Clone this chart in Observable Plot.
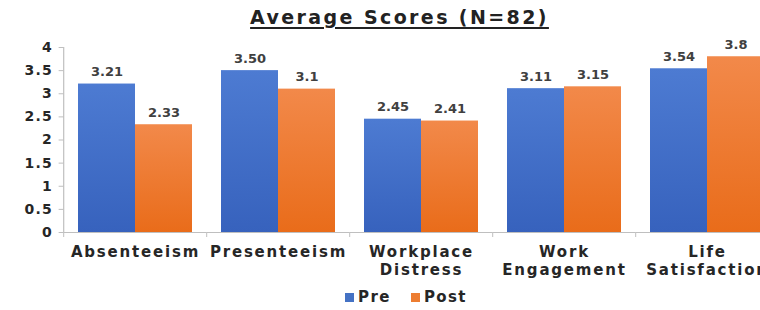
<!DOCTYPE html>
<html>
<head>
<meta charset="utf-8">
<script src="https://cdn.jsdelivr.net/npm/d3@7"></script>
<script src="https://cdn.jsdelivr.net/npm/@observablehq/plot@0.6"></script>
<style>
  html, body { margin: 0; padding: 0; background: #fff; overflow: hidden; }
  body { width: 760px; height: 310px; font-family: "DejaVu Sans", sans-serif; }
  #title { height: 34px; line-height: 34px; width: 721px; padding-left: 39px; text-align: center;
           font-weight: bold; font-size: 19px; letter-spacing: 2.4px; color: #222; text-decoration: underline;
           text-decoration-thickness: 2px; text-underline-offset: 3px; }
  #chart { width: 760px; height: 250px; overflow: hidden; }
  #legend { height: 26px; display: flex; justify-content: center; align-items: center; padding-left: 52px;
            font-weight: bold; font-size: 15px; letter-spacing: 1.4px; color: #262626; }
  .item { display: flex; align-items: center; margin: 0 10px; }
  .sw { width: 9px; height: 9px; margin-right: 4px; }
</style>
</head>
<body>
<div id="title">Average Scores (N=82)</div>
<div id="chart"></div>
<div id="legend"></div>
<script>
const categories = ["Absenteeism", "Presenteeism", "Workplace Distress", "Work Engagement", "Life Satisfaction"];
const categoryTickLabels = ["Absenteeism", "Presenteeism", "Workplace\nDistress", "Work\nEngagement", "Life\nSatisfaction"];
const series = ["Pre", "Post"];
const preValues = [3.21, 3.50, 2.45, 3.11, 3.54];
const postValues = [2.33, 3.1, 2.41, 3.15, 3.8];
const preLabels = ["3.21", "3.50", "2.45", "3.11", "3.54"];
const postLabels = ["2.33", "3.1", "2.41", "3.15", "3.8"];
const yTicks = [0, 0.5, 1, 1.5, 2, 2.5, 3, 3.5, 4];
const seriesColors = ["#4472C4", "#ED7D31"];

const rows = [];
categories.forEach((c, i) => {
  rows.push({category: c, series: "Pre", value: preValues[i], label: preLabels[i]});
  rows.push({category: c, series: "Post", value: postValues[i], label: postLabels[i]});
});
const tickLabelOf = new Map(categories.map((c, i) => [c, categoryTickLabels[i]]));

function gradients() {
  const ns = "http://www.w3.org/2000/svg";
  const defs = document.createElementNS(ns, "defs");
  const make = (id, top, bottom) => {
    const g = document.createElementNS(ns, "linearGradient");
    g.setAttribute("id", id);
    g.setAttribute("x1", "0"); g.setAttribute("y1", "0");
    g.setAttribute("x2", "0"); g.setAttribute("y2", "1");
    [[0, top], [1, bottom]].forEach(([o, col]) => {
      const s = document.createElementNS(ns, "stop");
      s.setAttribute("offset", o);
      s.setAttribute("stop-color", col);
      g.appendChild(s);
    });
    defs.appendChild(g);
  };
  make("gPre", "#4d7bd2", "#3762bd");
  make("gPost", "#f2894a", "#e96c1a");
  return defs;
}

const W = 780, ML = 62, MR = 0;
const step = (W - ML - MR) / categories.length;   // width of one category slot
const outerPad = step * 0.1;                      // gap between slot edge and first bar
const halfStep = step / 2;

const gray = "#bfbfbf";
const plot = Plot.plot({
  width: W,
  height: 250,
  marginLeft: ML,
  marginRight: MR,
  marginTop: 13,
  marginBottom: 52,
  style: {fontFamily: "DejaVu Sans, sans-serif", fontWeight: "bold", maxWidth: "none", background: "#fff", color: "#262626"},
  fx: {domain: categories, paddingInner: 0.2, paddingOuter: 0.1, label: null, axis: null},
  x: {domain: series, padding: 0, axis: null},
  y: {domain: [0, 4], label: null, axis: null},
  color: {domain: series, range: ["url(#gPre)", "url(#gPost)"]},
  marks: [
    gradients,
    Plot.barY(rows, {fx: "category", x: "series", y: "value", fill: "series"}),
    Plot.text(rows, {fx: "category", x: "series", y: "value", text: "label", dy: -12,
      fontSize: 13, fontWeight: "bold", fill: "#404040"}),
    Plot.ruleY([0], {insetLeft: -outerPad, insetRight: -outerPad, stroke: gray, strokeWidth: 1.2}),
    // vertical axis line in the first slot
    Plot.ruleX([categories[0]], {fx: d => d, x: null, y1: 0, y2: 4, dx: -halfStep, stroke: gray, strokeWidth: 1.2}),
    Plot.axisY({ticks: yTicks, tickFormat: d => String(d), tickSize: 5, tickPadding: 6, dx: -outerPad,
      stroke: gray, fontSize: 14, fontWeight: "bold", fill: "#262626", label: null}),
    // small tick marks at the slot boundaries
    Plot.ruleX(categories, {fx: d => d, x: null, y1: 0, y2: 0, insetBottom: -5, dx: -halfStep, stroke: gray}),
    Plot.axisFx({anchor: "bottom", tickSize: 0, tickPadding: 12, tickFormat: d => tickLabelOf.get(d), fontSize: 15,
      fontWeight: "bold", fill: "#262626", lineHeight: 1.2, label: null})
  ]
});
document.getElementById("chart").appendChild(plot);

// letter spacing to match the wide lettering of the reference
plot.querySelectorAll('g[aria-label="fx-axis tick label"]').forEach(g => g.setAttribute("letter-spacing", "1.8"));
plot.querySelectorAll('g[aria-label="y-axis tick label"]').forEach(g => g.setAttribute("letter-spacing", "1.3"));

const legend = document.getElementById("legend");
series.forEach((s, i) => {
  const item = document.createElement("div");
  item.className = "item";
  const sw = document.createElement("div");
  sw.className = "sw";
  sw.style.background = seriesColors[i];
  const t = document.createElement("span");
  t.textContent = s;
  item.appendChild(sw); item.appendChild(t);
  legend.appendChild(item);
});
</script>
</body>
</html>
